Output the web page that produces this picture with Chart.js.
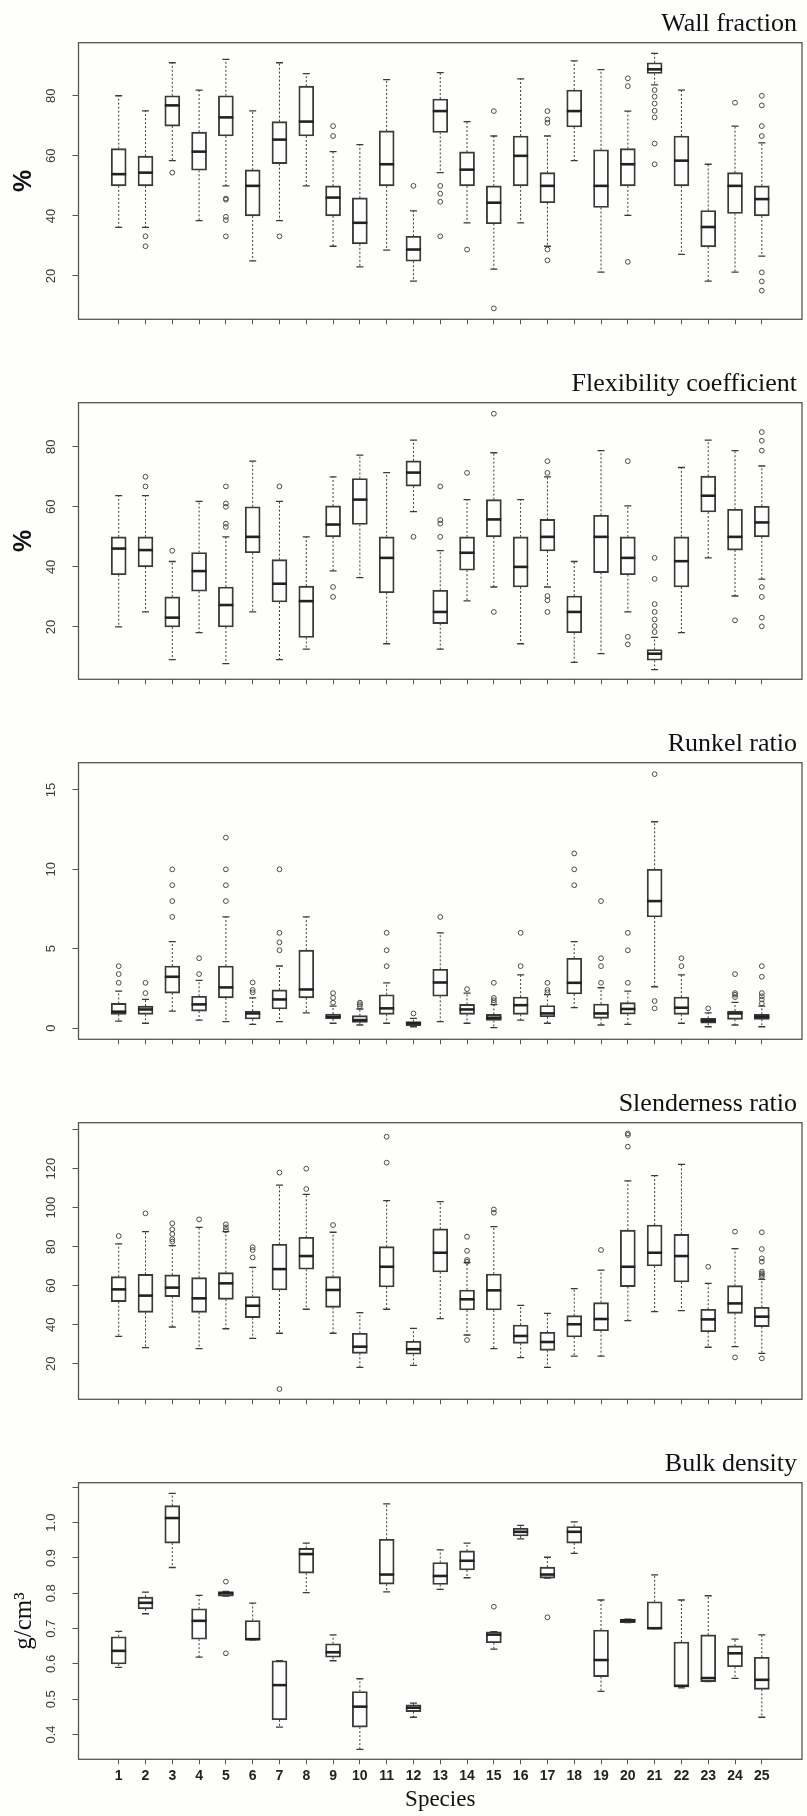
<!DOCTYPE html>
<html>
<head>
<meta charset="utf-8">
<script src="https://cdn.jsdelivr.net/npm/chart.js@4.4.0/dist/chart.umd.min.js"></script>
<style>
  html, body { margin: 0; padding: 0; background: #fefefc; }
  #page { position: relative; width: 807px; height: 1816px; overflow: hidden; }
  .panel { position: absolute; left: 0; width: 807px; }
  canvas { display: block; }
</style>
</head>
<body>
<div id="page">
  <div class="panel" style="top:0px"><canvas id="wall" width="807" height="360"></canvas></div>
  <div class="panel" style="top:360px"><canvas id="flex" width="807" height="360"></canvas></div>
  <div class="panel" style="top:720px"><canvas id="runkel" width="807" height="360"></canvas></div>
  <div class="panel" style="top:1080px"><canvas id="slender" width="807" height="360"></canvas></div>
  <div class="panel" style="top:1440px"><canvas id="bulk" width="807" height="376"></canvas></div>
</div>
<script>
// ─── Data ───────────────────────────────────────────────────────────────────

const SPECIES = [1, 2, 3, 4, 5, 6, 7, 8, 9, 10, 11, 12, 13, 14, 15, 16, 17, 18, 19, 20, 21, 22, 23, 24, 25];

// Wall fraction (%)
const WALL_LO  = [36.2, 36.2, 58.4, 38.4, 50, 25, 38.4, 50, 29.9, 23, 28.6, 18.3, 54.4, 37.7, 22.3, 37.7, 29.9, 58.4, 21.3, 40.2, 83.6, 27.2, 18.3, 21.3, 26.6];
const WALL_Q1  = [50, 50, 69.9, 55.2, 66.6, 40, 57.4, 66.6, 40, 30.7, 50, 24.9, 67.8, 50, 37.4, 50, 44.4, 69.6, 42.8, 50, 87.4, 50, 29.7, 40.8, 40];
const WALL_MED = [53.9, 54.4, 76.8, 61.4, 72.8, 50, 65.4, 71.4, 46.1, 37.7, 57.2, 28.8, 74.9, 55.4, 44.4, 60, 50, 74.9, 50, 57.2, 88.8, 58.4, 36.3, 50, 45.6];
const WALL_Q3  = [62.4, 59.9, 80, 67.9, 80, 55.3, 71.4, 83.2, 50, 46, 68.3, 33.2, 78.9, 61.3, 50, 66.6, 54.4, 81.9, 62, 62.4, 91, 66.6, 41.8, 54.4, 50];
const WALL_HI  = [80, 75, 91, 81.9, 92.1, 75, 91, 87.4, 61.4, 63.7, 85.4, 41.7, 87.7, 71.4, 66.6, 85.6, 66.6, 91.6, 88.7, 74.9, 94.1, 81.9, 57.2, 69.9, 64.3];
const WALL_OUT = [[], [33.2, 29.9], [54.4], [], [45.8, 45.4, 39.7, 38.6, 33.2], [], [33.2], [], [69.9, 66.6], [], [], [50],
  [50, 47.4, 44.7, 33.2], [28.8], [74.9, 9.2], [], [74.9, 72.1, 71, 28.8, 25.2], [], [], [85.8, 83.2, 24.7],
  [81.9, 79.7, 77.4, 75, 72.8, 64.1, 57.2], [], [], [77.7], [80, 76.8, 69.9, 66.6, 21.2, 18.2, 15.1]];
const WALL_TICKS = [20, 40, 60, 80];
const WALL_TICK_LABELS = ['20', '40', '60', '80'];

// Flexibility coefficient (%)
const FLEX_LO  = [20, 25, 9.1, 18.1, 7.8, 25, 9.1, 12.6, 38.7, 36.4, 14.4, 58.4, 12.6, 28.7, 33.3, 14.4, 33.3, 8.2, 11.1, 25, 5.8, 18.1, 43, 30.3, 35.9];
const FLEX_Q1  = [37.4, 40, 20, 31.9, 20, 44.7, 28.3, 16.5, 50, 54.1, 31.4, 66.9, 21.1, 38.9, 50, 33.3, 45.3, 18.1, 38.1, 37.4, 8.9, 33.3, 58.3, 45.6, 50];
const FLEX_MED = [46.1, 45.6, 23.1, 38.6, 27.3, 50, 34.4, 28.6, 54.1, 62.4, 43, 71.4, 25, 44.7, 55.8, 40, 50, 25, 50, 43, 11.1, 41.9, 63.7, 50, 54.8];
const FLEX_Q3  = [50, 50, 30, 44.8, 33.3, 60, 42.4, 33.6, 60.3, 69.4, 50, 75.3, 32.2, 50, 62.4, 50, 55.8, 30.3, 57.2, 50, 12.5, 50, 70.2, 59.2, 60.2];
const FLEX_HI  = [63.7, 63.7, 41.8, 61.8, 50, 75.2, 61.8, 50, 70, 77.2, 71.4, 82.2, 45.4, 62.4, 78, 62.4, 70, 41.8, 78.7, 60.3, 16.5, 73.1, 82.2, 78.7, 73.6];
const FLEX_OUT = [[], [70, 66.8], [45.4], [], [66.8, 61.1, 60, 54.4, 53.3], [], [66.8], [], [33.3, 30], [], [], [50],
  [66.8, 55.6, 54.4, 50], [71.3], [91, 25], [], [75.2, 71.3, 30.3, 28.9, 25], [], [], [75.2, 16.7, 14.2],
  [43, 36, 27.6, 25, 22.5, 20.3, 18.3], [], [], [22.2], [84.9, 82, 78.7, 33.3, 30, 23.1, 20.2]];
const FLEX_TICKS = [20, 40, 60, 80];
const FLEX_TICK_LABELS = ['20', '40', '60', '80'];

// Runkel ratio
const RUNKEL_LO  = [0.44, 0.3, 1.07, 0.5, 0.4, 0.23, 0.4, 0.95, 0.3, 0.19, 0.3, 0.08, 0.4, 0.3, 0.02, 0.5, 0.3, 1.28, 0.19, 0.23, 2.6, 0.3, 0.08, 0.19, 0.08];
const RUNKEL_Q1  = [0.86, 0.86, 2.2, 1.07, 1.9, 0.57, 1.2, 1.9, 0.57, 0.35, 0.86, 0.15, 2.0, 0.86, 0.48, 0.86, 0.71, 2.15, 0.61, 0.88, 7, 0.86, 0.3, 0.55, 0.55];
const RUNKEL_MED = [1.03, 1.17, 3.23, 1.49, 2.56, 0.92, 1.8, 2.43, 0.71, 0.5, 1.24, 0.3, 2.87, 1.17, 0.65, 1.44, 0.92, 2.85, 0.92, 1.2, 8, 1.28, 0.46, 0.92, 0.71];
const RUNKEL_Q3  = [1.55, 1.38, 3.91, 2.0, 3.91, 1.07, 2.4, 4.91, 0.88, 0.78, 2.1, 0.4, 3.7, 1.49, 0.86, 1.95, 1.42, 4.4, 1.51, 1.6, 10, 1.95, 0.61, 1.07, 0.86];
const RUNKEL_HI  = [2.33, 1.8, 5.44, 3.0, 7, 1.9, 3.91, 7, 1.38, 1.2, 2.85, 0.61, 6, 2.2, 1.47, 3.35, 2.1, 5.44, 2.54, 2.33, 13, 3.35, 0.95, 1.62, 1.38];
const RUNKEL_OUT = [[3.9, 3.4, 2.85], [2.85, 2.2], [10, 9, 8, 7], [4.4, 3.4], [12, 10, 9, 8], [2.87, 2.4, 2.25], [10, 6, 5.4, 4.9], [],
  [2.2, 1.9, 1.6], [1.6, 1.5, 1.38], [6, 4.9, 3.9], [0.92], [7], [2.45], [2.85, 1.9, 1.75, 1.6], [6, 3.9], [2.85, 2.4, 2.25],
  [11, 10, 9], [8, 4.4, 3.9, 2.85], [6, 4.9, 2.85], [16, 1.7, 1.24], [4.4, 3.9], [1.24], [3.4, 2.2, 2.1, 1.95], [3.9, 3.23, 2.2, 2.0, 1.8, 1.55]];
const RUNKEL_TICKS = [0, 5, 10, 15];
const RUNKEL_TICK_LABELS = ['0', '5', '10', '15'];

// Slenderness ratio
const SLENDER_LO  = [34, 28.2, 38.8, 27.7, 37.9, 33, 35.6, 47.9, 35.6, 18.1, 47.9, 19.1, 43.1, 34.7, 27.7, 23.1, 18.1, 23.9, 23.9, 42.1, 46.7, 47.2, 28.4, 28.7, 25.3];
const SLENDER_Q1  = [51.8, 46.3, 54.4, 46.3, 53, 43.6, 57.8, 68.4, 48.9, 25.3, 59.3, 24.8, 67, 47.5, 47.5, 30.4, 26.8, 33.7, 36.9, 59.5, 70.1, 61.9, 36.4, 45.8, 39];
const SLENDER_MED = [58.1, 54.9, 59, 53.5, 61.2, 49.7, 68.5, 75.2, 57.8, 28.7, 69.7, 27.4, 76.9, 53, 57.6, 34.2, 31.1, 40.2, 42.9, 69.7, 76.9, 75.2, 42.7, 50.9, 44.1];
const SLENDER_Q3  = [64.6, 65.8, 65.5, 64.1, 66.7, 54.4, 81.2, 84.8, 64.6, 35.6, 80, 31.5, 89.1, 57.8, 66, 39.8, 36.1, 44.6, 51.3, 88.5, 91.1, 86.3, 47.9, 60, 48.9];
const SLENDER_HI  = [81.4, 87.7, 80.5, 89.9, 87.7, 69.4, 111.6, 106.8, 87.4, 46.2, 103.6, 38.1, 103.1, 71.8, 90.3, 49.9, 45.8, 58.5, 68, 113.8, 116.4, 122.2, 61.2, 79, 63.2];
const SLENDER_OUT = [[85.5], [97.1], [92, 88.9, 86.5, 83.8, 82.6], [94], [91.5, 89.9, 88.5], [79.7, 78.3, 74.5], [118, 7], [120, 109.6],
  [91.1], [], [136.4, 123.1], [], [], [85.1, 77.9, 73.2, 72.3, 32.1], [99.1, 97.4], [], [], [], [78.3], [138.1, 137.3, 131.3],
  [], [], [69.7], [87.7, 23.2], [87.4, 78.8, 74, 72.3, 67.2, 66.3, 65.5, 64.6, 22.7]];
const SLENDER_TICKS = [20, 40, 60, 80, 100, 120, 140];
const SLENDER_TICK_LABELS = ['20', '40', '60', '80', '100', '120'];

// Bulk density (g/cm3)
const BULK_LO  = [0.59, 0.742, 0.873, 0.619, 0.792, 0.668, 0.421, 0.802, 0.609, 0.358, 0.804, 0.449, 0.811, 0.844, 0.642, 0.954, 0.843, 0.913, 0.522, 0.717, 0.7, 0.532, 0.55, 0.559, 0.449];
const BULK_Q1  = [0.6, 0.756, 0.942, 0.67, 0.792, 0.668, 0.442, 0.857, 0.619, 0.421, 0.826, 0.465, 0.825, 0.866, 0.66, 0.962, 0.843, 0.942, 0.564, 0.717, 0.7, 0.536, 0.55, 0.592, 0.528];
const BULK_MED = [0.637, 0.773, 1.013, 0.722, 0.8, 0.67, 0.54, 0.911, 0.633, 0.479, 0.853, 0.476, 0.849, 0.892, 0.683, 0.974, 0.853, 0.974, 0.611, 0.723, 0.701, 0.538, 0.56, 0.63, 0.555];
const BULK_Q3  = [0.677, 0.789, 1.048, 0.756, 0.805, 0.723, 0.609, 0.927, 0.657, 0.522, 0.953, 0.484, 0.887, 0.92, 0.691, 0.984, 0.874, 0.989, 0.696, 0.727, 0.776, 0.662, 0.682, 0.651, 0.619];
const BULK_HI  = [0.692, 0.803, 1.083, 0.794, 0.805, 0.772, 0.609, 0.942, 0.682, 0.558, 1.053, 0.489, 0.923, 0.942, 0.691, 0.992, 0.902, 1.002, 0.781, 0.727, 0.852, 0.781, 0.793, 0.67, 0.682];
const BULK_OUT = [[], [], [], [], [0.833, 0.63], [], [], [], [], [], [], [], [], [], [0.762], [], [0.732], [], [], [], [], [], [], [], []];
const BULK_TICKS = [0.4, 0.5, 0.6, 0.7, 0.8, 0.9, 1.0, 1.1];
const BULK_TICK_LABELS = ['0.4', '0.5', '0.6', '0.7', '0.8', '0.9', '1.0'];

// ─── Styling ────────────────────────────────────────────────────────────────

const INK = '#3a3a3a';
const FRAME = '#555555';
const SANS = '"Liberation Sans", Arial, sans-serif';
const SERIF = '"Liberation Serif", "Times New Roman", serif';

Chart.defaults.font.family = SANS;
Chart.defaults.color = INK;

const PLOT_TOP = 42.7;      // frame top inside each canvas
const PLOT_H = 276.6;       // frame height
const PLOT_LEFT = 78.5;

const PANELS = [
  { id: 'wall', title: 'Wall fraction', yTitle: '%', yTitleFont: 'bold 25px ' + SANS, min: 5.57, max: 97.67,
    ticks: WALL_TICKS, tickLabels: WALL_TICK_LABELS, lo: WALL_LO, q1: WALL_Q1, med: WALL_MED, q3: WALL_Q3, hi: WALL_HI, out: WALL_OUT },
  { id: 'flex', title: 'Flexibility coefficient', yTitle: '%', yTitleFont: 'bold 25px ' + SANS, min: 2.57, max: 94.67,
    ticks: FLEX_TICKS, tickLabels: FLEX_TICK_LABELS, lo: FLEX_LO, q1: FLEX_Q1, med: FLEX_MED, q3: FLEX_Q3, hi: FLEX_HI, out: FLEX_OUT },
  { id: 'runkel', title: 'Runkel ratio', yTitle: '', min: -0.71, max: 16.72,
    ticks: RUNKEL_TICKS, tickLabels: RUNKEL_TICK_LABELS, lo: RUNKEL_LO, q1: RUNKEL_Q1, med: RUNKEL_MED, q3: RUNKEL_Q3, hi: RUNKEL_HI, out: RUNKEL_OUT },
  { id: 'slender', title: 'Slenderness ratio', yTitle: '', min: 1.71, max: 143.6,
    ticks: SLENDER_TICKS, tickLabels: SLENDER_TICK_LABELS, lo: SLENDER_LO, q1: SLENDER_Q1, med: SLENDER_MED, q3: SLENDER_Q3, hi: SLENDER_HI, out: SLENDER_OUT },
  { id: 'bulk', title: 'Bulk density', yTitle: 'g/cm³', yTitleFont: '25px ' + SERIF, min: 0.330, max: 1.113,
    ticks: BULK_TICKS, tickLabels: BULK_TICK_LABELS, lo: BULK_LO, q1: BULK_Q1, med: BULK_MED, q3: BULK_Q3, hi: BULK_HI, out: BULK_OUT,
    xLabels: true, xTitle: 'Species' },
];

// ─── Box-plot drawing plugin (whiskers, medians, frame, text) ───────────────

function makeBoxPlugin(p) {
  return {
    id: 'boxPlot_' + p.id,
    afterDatasetsDraw(chart) {
      const { ctx, chartArea: a, scales: { x, y } } = chart;

      ctx.save();
      ctx.strokeStyle = INK;
      SPECIES.forEach((s, i) => {
        const px = x.getPixelForValue(s);
        const yLo = y.getPixelForValue(p.lo[i]);
        const yQ1 = y.getPixelForValue(p.q1[i]);
        const yQ3 = y.getPixelForValue(p.q3[i]);
        const yHi = y.getPixelForValue(p.hi[i]);
        const yMed = y.getPixelForValue(p.med[i]);

        // dashed whiskers
        ctx.lineWidth = 1;
        ctx.setLineDash([2, 2]);
        ctx.beginPath();
        ctx.moveTo(px, yQ3); ctx.lineTo(px, yHi);
        ctx.moveTo(px, yQ1); ctx.lineTo(px, yLo);
        ctx.stroke();

        // staples
        ctx.setLineDash([]);
        ctx.lineWidth = 1.3;
        ctx.beginPath();
        ctx.moveTo(px - 3.5, yHi); ctx.lineTo(px + 3.5, yHi);
        ctx.moveTo(px - 3.5, yLo); ctx.lineTo(px + 3.5, yLo);
        ctx.stroke();

        // median
        ctx.lineWidth = 2.6;
        ctx.strokeStyle = '#222';
        ctx.beginPath();
        ctx.moveTo(px - 7.5, yMed); ctx.lineTo(px + 7.5, yMed);
        ctx.stroke();
        ctx.strokeStyle = INK;
      });
      ctx.restore();

      // frame
      ctx.save();
      ctx.strokeStyle = FRAME;
      ctx.lineWidth = 1.3;
      ctx.strokeRect(a.left, a.top, a.right - a.left, a.bottom - a.top);

      // panel title, right aligned
      ctx.fillStyle = '#111';
      ctx.font = '26px ' + SERIF;
      ctx.textAlign = 'right';
      ctx.textBaseline = 'alphabetic';
      ctx.fillText(p.title, 797, a.top - 12);

      // rotated y tick labels
      ctx.fillStyle = INK;
      ctx.font = '13px ' + SANS;
      ctx.textAlign = 'center';
      ctx.textBaseline = 'middle';
      p.tickLabels.forEach((lab, i) => {
        ctx.save();
        ctx.translate(51, y.getPixelForValue(p.ticks[i]));
        ctx.rotate(-Math.PI / 2);
        ctx.fillText(lab, 0, 0);
        ctx.restore();
      });

      // y axis title
      if (p.yTitle) {
        ctx.save();
        ctx.fillStyle = '#111';
        ctx.font = p.yTitleFont;
        ctx.translate(24, (a.top + a.bottom) / 2);
        ctx.rotate(-Math.PI / 2);
        ctx.fillText(p.yTitle, 0, 0);
        ctx.restore();
      }

      // x axis title
      if (p.xTitle) {
        ctx.fillStyle = '#111';
        ctx.font = '23px ' + SERIF;
        ctx.textBaseline = 'middle';
        ctx.fillText(p.xTitle, (a.left + a.right) / 2, 360);
      }
      ctx.restore();
    },
  };
}

// ─── Build charts ───────────────────────────────────────────────────────────

function renderPanel(p) {
  const canvas = document.getElementById(p.id);
  const H = canvas.height;

  const outliers = [];
  SPECIES.forEach((s, i) => p.out[i].forEach(v => outliers.push({ x: s, y: v })));

  return new Chart(canvas, {
    type: 'bar',
    data: {
      datasets: [
        {
          type: 'bar',
          data: SPECIES.map((s, i) => ({ x: s, y: [p.q1[i], p.q3[i]] })),
          backgroundColor: 'rgba(0,0,0,0)',
          borderColor: INK,
          borderWidth: 1.2,
          borderSkipped: false,
          barThickness: 15,
        },
        {
          type: 'scatter',
          data: outliers,
          pointStyle: 'circle',
          pointRadius: 2.4,
          borderColor: '#4a4a4a',
          borderWidth: 1,
          backgroundColor: 'rgba(0,0,0,0)',
        },
      ],
    },
    options: {
      responsive: false,
      animation: false,
      events: [],
      layout: { padding: { top: PLOT_TOP, left: 0, right: 1, bottom: 0 } },
      plugins: { legend: { display: false }, tooltip: { enabled: false } },
      scales: {
        x: {
          type: 'linear',
          min: -0.5,
          max: 26.5,
          offset: false,
          afterBuildTicks: axis => { axis.ticks = SPECIES.map(v => ({ value: v })); },
          afterFit: axis => { axis.height = H - PLOT_TOP - PLOT_H; },
          grid: { display: true, offset: false, drawOnChartArea: false, drawTicks: true, tickLength: 5, color: FRAME },
          border: { display: false },
          ticks: {
            display: !!p.xLabels,
            autoSkip: false,
            maxRotation: 0,
            minRotation: 0,
            padding: 3,
            color: '#222',
            font: { size: 14, weight: 'bold' },
            callback: v => String(v),
          },
        },
        y: {
          type: 'linear',
          min: p.min,
          max: p.max,
          afterBuildTicks: axis => { axis.ticks = p.ticks.map(v => ({ value: v })); },
          afterFit: axis => { axis.width = PLOT_LEFT; },
          grid: { display: true, drawOnChartArea: false, drawTicks: true, tickLength: 6, color: FRAME },
          border: { display: false },
          ticks: { display: false },
        },
      },
    },
    plugins: [makeBoxPlugin(p)],
  });
}

PANELS.forEach(renderPanel);
</script>
</body>
</html>
